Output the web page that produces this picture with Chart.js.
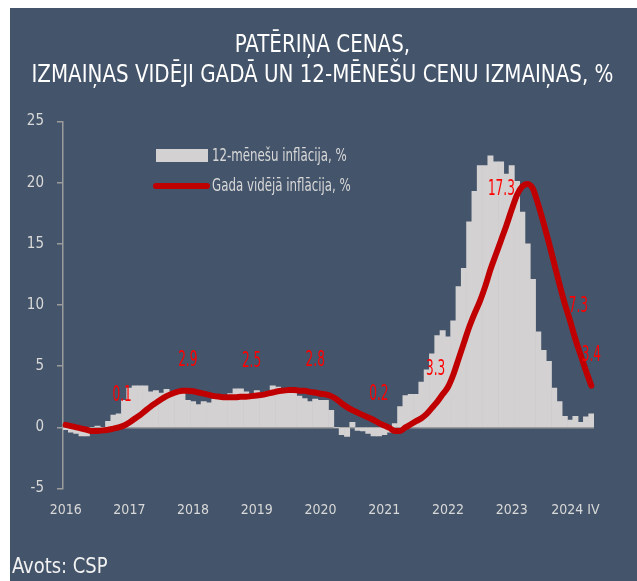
<!DOCTYPE html>
<html>
<head>
<meta charset="utf-8">
<script src="https://cdn.jsdelivr.net/npm/chart.js@4.4.1/dist/chart.umd.min.js"></script>
<style>
  body { margin: 0; background: #fff; width: 637px; height: 581px; overflow: hidden; position: relative; }
  #panel { position: absolute; left: 10px; top: 8px; width: 627px; height: 573px; background: #44546A; }
  #c { position: absolute; left: 0; top: 0; }
  .txt { position: absolute; font-family: 'DejaVu Sans Condensed', 'Liberation Sans', sans-serif; white-space: nowrap; }
  #title { left: 0; width: 645px; top: 29px; text-align: center; color: #fff; font-size: 24px; line-height: 30px;
           transform: scaleX(0.92); transform-origin: 322px 0; }
  .leg { color: #D9D9D9; font-size: 18px; left: 212px; transform: scaleX(0.73); transform-origin: 0 0; }
  #src { left: 12px; top: 554px; color: #F2F2F2; font-size: 21px; transform: scaleX(0.95); transform-origin: 0 0; }
</style>
</head>
<body>
<div id="panel"></div>
<canvas id="c" width="637" height="581"></canvas>
<div id="title" class="txt">PATĒRIŅA CENAS,<br>IZMAIŅAS VIDĒJI GADĀ UN 12-MĒNEŠU CENU IZMAIŅAS, %</div>
<div class="txt" style="left:156px;top:149px;width:52px;height:13px;background:#D3D1D1"></div>
<div class="txt leg" style="top:144px">12-mēnešu inflācija, %</div>
<div class="txt" style="left:153px;top:183px;width:57px;height:6px;border-radius:3px;background:#C00000"></div>
<div class="txt leg" style="top:174px">Gada vidējā inflācija, %</div>
<div id="src" class="txt">Avots: CSP</div>
<script>
// Tick labels under the x axis (one per January)
const yearLabels = ['2016', '2017', '2018', '2019', '2020', '2021', '2022', '2023', '2024 IV'];
const monthsInLast = 4; // Jan..Apr 2024

// 12-month inflation, % (Jan 2016 .. Apr 2024)
const infl12m = [
  -0.2, -0.4, -0.5, -0.7, -0.7, -0.5, 0.1, 0.0, 0.5, 1.0, 1.1, 2.2,
  3.2, 3.4, 3.4, 3.4, 2.9, 3.0, 2.8, 3.1, 2.9, 2.8, 2.8, 2.2,
  2.1, 1.85, 2.1, 2.0, 2.3, 2.7, 2.5, 2.75, 3.15, 3.15, 2.9, 2.6,
  3.0, 2.8, 2.9, 3.4, 3.3, 3.1, 3.0, 2.9, 2.55, 2.35, 2.1, 2.3,
  2.2, 2.2, 1.4, 0.0, -0.6, -0.75, 0.4, -0.25, -0.3, -0.5, -0.7, -0.7,
  -0.6, -0.4, 0.3, 1.7, 2.6, 2.7, 2.7, 3.7, 4.7, 6.0, 7.5, 7.9,
  7.4, 8.7, 11.5, 13.0, 16.8, 19.3, 21.4, 21.4, 22.2, 21.7, 21.7, 20.7,
  21.4, 20.1, 17.6, 15.0, 12.1, 7.8, 6.3, 5.4, 3.2, 2.1, 0.9, 0.6,
  0.9, 0.4, 0.85, 1.1
];

// Annual average inflation, %
const inflAvg = [
  0.2, 0.1, 0.0, -0.1, -0.2, -0.3, -0.3, -0.25, -0.2, -0.1, 0.0, 0.15,
  0.4, 0.7, 1.0, 1.35, 1.7, 2.0, 2.3, 2.55, 2.75, 2.9, 3.0, 3.0,
  2.95, 2.85, 2.75, 2.65, 2.55, 2.5, 2.45, 2.45, 2.45, 2.5, 2.5, 2.55,
  2.6, 2.65, 2.75, 2.85, 2.95, 3.0, 3.05, 3.05, 3.0, 3.0, 2.9, 2.85,
  2.75, 2.7, 2.55, 2.3, 1.95, 1.65, 1.4, 1.2, 1.0, 0.8, 0.6, 0.35,
  0.15, -0.05, -0.3, -0.3, 0.0, 0.25, 0.5, 0.75, 1.1, 1.6, 2.1, 2.7,
  3.3, 4.3, 5.6, 6.9, 8.2, 9.3, 10.3, 11.5, 12.9, 14.1, 15.3, 16.5,
  17.8, 19.0, 19.7, 19.9, 19.5, 18.2, 16.7, 15.1, 13.4, 11.7, 10.1, 8.7,
  7.2, 5.9, 4.6, 3.4
];

// Value labels on the red line: month index and text
const avgLabelIdx  = [11, 23, 35, 47, 59, 71, 83, 96, 99];
const avgLabelText = ['0.1', '2.9', '2.5', '2.8', '0.2', '3.3', '17.3', '7.3', '3.4'];
const avgLabelDx   = [-2, 0, 0, 0, 0, -7, -5, 3, 0];
const avgLabelDy   = [-30, -30, -35, -32, -29, -25, -36, -33, -30];

// one category per month, the year text sits on January
const labels = [];
yearLabels.forEach((y, k) => {
  const n = k === yearLabels.length - 1 ? monthsInLast : 12;
  for (let m = 0; m < n; m++) labels.push(m === 0 ? y : '');
});

const FONT = "'DejaVu Sans Condensed', 'Liberation Sans', sans-serif";
Chart.defaults.font.family = FONT;

// red value labels, squeezed a bit to look like a narrow font
const valueLabels = {
  id: 'valueLabels',
  afterDatasetsDraw(chart) {
    const meta = chart.getDatasetMeta(0);
    const ctx = chart.ctx;
    avgLabelIdx.forEach((idx, k) => {
      const pt = meta.data[idx];
      ctx.save();
      ctx.translate(pt.x + avgLabelDx[k], pt.y + avgLabelDy[k]);
      ctx.scale(0.64, 1);
      ctx.fillStyle = '#FF0000';
      ctx.font = '21px ' + FONT;
      ctx.textAlign = 'center';
      ctx.textBaseline = 'middle';
      ctx.fillText(avgLabelText[k], 0, 0);
      ctx.restore();
    });
  }
};

new Chart(document.getElementById('c'), {
  type: 'bar',
  data: {
    labels,
    datasets: [{
      type: 'line',
      label: 'Gada vidējā inflācija, %',
      data: inflAvg,
      borderColor: '#C00000',
      borderWidth: 6,
      borderCapStyle: 'round',
      pointRadius: 0,
      cubicInterpolationMode: 'monotone',
      order: 1,
    }, {
      label: '12-mēnešu inflācija, %',
      data: infl12m,
      backgroundColor: '#D3D1D1',
      barPercentage: 1, categoryPercentage: 1,
      borderWidth: 0,
      order: 2,
    }],
  },
  options: {
    responsive: false,
    animation: false,
    layout: { padding: { top: 121.5, right: 43, left: 0, bottom: 0 } },
    plugins: { legend: { display: false }, tooltip: { enabled: false } },
    scales: {
      x: {
        grid: { display: false, drawTicks: false },
        border: { display: false },
        ticks: { color: '#D9D9D9', font: { size: 14 }, autoSkip: false, maxRotation: 0, padding: 13 },
        afterFit(s) { s.height = 581 - 488.5; },
      },
      y: {
        min: -5, max: 25,
        ticks: { stepSize: 5, color: '#D9D9D9', font: { size: 15 }, padding: 13 },
        grid: {
          color: c => c.tick && c.tick.value === 0 ? '#9C9C9C' : 'transparent',
          tickColor: '#9C9C9C', tickLength: 6, lineWidth: 1.5,
        },
        border: { display: true, color: '#9C9C9C', width: 1.5 },
        afterFit(s) { s.width = 63; },
      },
    },
  },
  plugins: [valueLabels],
});
</script>
</body>
</html>
